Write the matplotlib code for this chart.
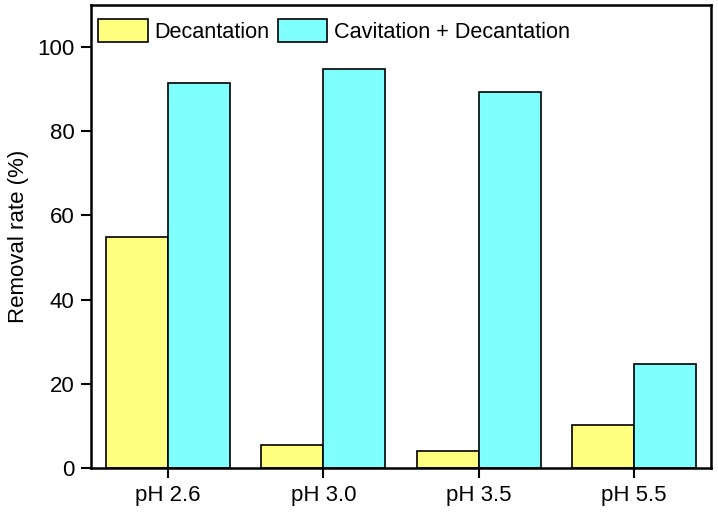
import matplotlib
matplotlib.use("Agg")
import matplotlib.pyplot as plt
import numpy as np

plt.rcParams['font.family'] = ['Liberation Sans', 'DejaVu Sans']

categories = ["pH 2.6", "pH 3.0", "pH 3.5", "pH 5.5"]
decantation = [54.9, 5.5, 4.1, 10.2]
cavitation_decantation = [91.4, 94.8, 89.3, 24.7]
series_names = ["Decantation", "Cavitation + Decantation"]
yticks = [0, 20, 40, 60, 80, 100]

fig = plt.figure(figsize=(7.18, 5.13), dpi=100)
ax = fig.add_axes([91/718, 45/513, 620/718, 463/513])

x = np.arange(len(categories))
w = 0.4
ax.bar(x - w/2, decantation, w, color="#FFFF80", edgecolor="black", linewidth=1.2, label=series_names[0])
ax.bar(x + w/2, cavitation_decantation, w, color="#80FFFF", edgecolor="black", linewidth=1.2, label=series_names[1])

ax.set_xlim(-0.496, len(categories) - 1 + 0.496)
ax.set_ylim(0, 110)
ax.set_xticks(x)
ax.set_xticklabels(categories, fontsize=16)
ax.set_yticks(yticks)
ax.set_yticklabels([str(t) for t in yticks], fontsize=16)
ax.tick_params(direction='out', length=7, width=1.5, top=False, right=False, pad=5)
ax.set_ylabel("Removal rate (%)", fontsize=16, labelpad=5.5)
for s in ax.spines.values():
    s.set_linewidth(1.8)

ax.legend(loc='upper left', bbox_to_anchor=(0.011, 0.970), ncol=2, frameon=False,
          fontsize=15.6, handlelength=2.3, handleheight=1.25, handletextpad=0.32,
          columnspacing=0.36, borderpad=0, borderaxespad=0)

fig.savefig("out.png", dpi=100)
